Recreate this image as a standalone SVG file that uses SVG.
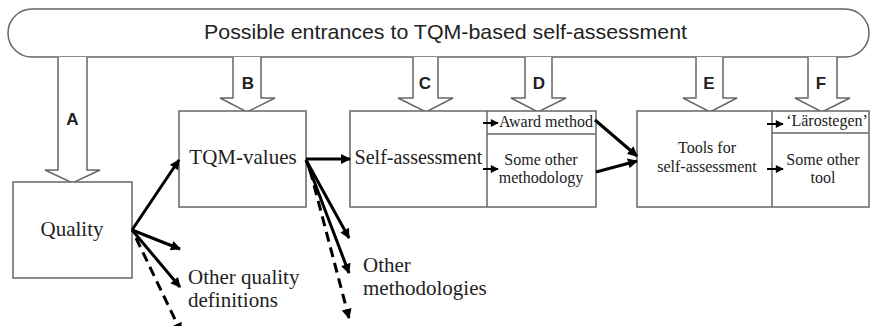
<svg xmlns="http://www.w3.org/2000/svg" width="873" height="326" viewBox="0 0 873 326">
<style>
.box{fill:#fff;stroke:#666;stroke-width:1.5}
.blk{fill:#fff;stroke:#666;stroke-width:1.5;stroke-linejoin:miter}
.ser{font-family:"Liberation Serif",serif;fill:#222}
.sans{font-family:"Liberation Sans",Arial,sans-serif;fill:#222}
.lbl{font-family:"Liberation Sans",Arial,sans-serif;font-weight:bold;font-size:17px;fill:#222;text-anchor:middle}
.c{stroke:#000;stroke-width:3;fill:none}
.d{stroke:#000;stroke-width:3;fill:none;stroke-dasharray:10,6}
.s{stroke:#000;stroke-width:2;fill:none}
</style>
<defs>
<marker id="ah" viewBox="0 0 10 10" refX="9" refY="5" markerWidth="13" markerHeight="10" markerUnits="userSpaceOnUse" orient="auto"><path d="M0,0 L10,5 L0,10 z" fill="#000"/></marker>
<marker id="sh" viewBox="0 0 10 10" refX="9" refY="5" markerWidth="9" markerHeight="8" markerUnits="userSpaceOnUse" orient="auto"><path d="M0,0 L10,5 L0,10 z" fill="#000"/></marker>
</defs>
<rect width="873" height="326" fill="#fff"/>
<g id="top">
<rect class="box" x="8" y="9" width="861" height="48" rx="24" ry="24"/>
<text class="sans" x="204" y="39" font-size="21" textLength="483" lengthAdjust="spacingAndGlyphs">Possible entrances to TQM-based self-assessment</text>
</g>
<g id="entrances">
<path class="blk" d="M58,57 L58,170 L45,170 L72.5,183 L100,170 L87,170 L87,57"/>
<text class="lbl" x="72.5" y="125">A</text>
<path class="blk" d="M233,57 L233,98 L220,98 L247,112 L275,98 L261,98 L261,57"/>
<text class="lbl" x="248" y="89">B</text>
<path class="blk" d="M413,57 L413,98 L398,98 L426,112 L453,98 L438,98 L438,57"/>
<text class="lbl" x="425" y="89">C</text>
<path class="blk" d="M525,57 L525,98 L511,98 L538,112 L566,98 L552,98 L552,57"/>
<text class="lbl" x="539" y="89">D</text>
<path class="blk" d="M696,57 L696,98 L683,98 L710,112 L737,98 L723,98 L723,57"/>
<text class="lbl" x="709" y="89">E</text>
<path class="blk" d="M808,57 L808,98 L795,98 L822,112 L850,98 L837,98 L837,57"/>
<text class="lbl" x="821" y="89">F</text>
</g>
<g id="quality">
<rect class="box" x="13" y="182" width="119" height="96"/>
<text class="ser" x="72" y="236" font-size="21" text-anchor="middle">Quality</text>
</g>
<g id="tqm-values">
<rect class="box" x="179" y="111" width="127" height="96"/>
<text class="ser" x="243" y="164" font-size="21" text-anchor="middle">TQM-values</text>
</g>
<g id="self-assessment">
<rect class="box" x="350" y="111" width="246" height="96"/>
<line class="box" x1="487" y1="111" x2="487" y2="207"/>
<line class="box" x1="487" y1="134" x2="596" y2="134"/>
<text class="ser" x="418.5" y="164" font-size="20" text-anchor="middle">Self-assessment</text>
<text class="ser" x="546" y="127" font-size="16" text-anchor="middle">Award method</text>
<text class="ser" x="541" y="165" font-size="16" text-anchor="middle">Some other</text>
<text class="ser" x="541" y="183" font-size="16" text-anchor="middle">methodology</text>
</g>
<g id="tools">
<rect class="box" x="637" y="111" width="232" height="96"/>
<line class="box" x1="772" y1="111" x2="772" y2="207"/>
<line class="box" x1="772" y1="133" x2="869" y2="133"/>
<text class="ser" x="707" y="153" font-size="16" text-anchor="middle">Tools for</text>
<text class="ser" x="707" y="172" font-size="16" text-anchor="middle">self-assessment</text>
<text class="ser" x="827" y="126" font-size="16" text-anchor="middle">‘Lärostegen’</text>
<text class="ser" x="823" y="165" font-size="16" text-anchor="middle">Some other</text>
<text class="ser" x="823" y="183" font-size="16" text-anchor="middle">tool</text>
</g>
<g id="others">
<text class="ser" x="188" y="284" font-size="21">Other quality</text>
<text class="ser" x="188" y="307" font-size="21">definitions</text>
<text class="ser" x="363" y="272" font-size="21">Other</text>
<text class="ser" x="363" y="295" font-size="21">methodologies</text>
</g>
<g id="connectors">
<line class="c" x1="132" y1="230" x2="179" y2="160" marker-end="url(#ah)"/>
<line class="c" x1="132" y1="230" x2="180" y2="249" marker-end="url(#ah)"/>
<line class="c" x1="132" y1="230" x2="180" y2="287" marker-end="url(#ah)"/>
<line class="d" x1="136" y1="238" x2="181" y2="332" marker-end="url(#ah)"/>
<line class="c" x1="306" y1="159" x2="350" y2="159" marker-end="url(#ah)"/>
<line class="c" x1="306" y1="160" x2="349" y2="238" marker-end="url(#ah)"/>
<line class="c" x1="306" y1="160" x2="349" y2="273" marker-end="url(#ah)"/>
<line class="d" x1="310" y1="170" x2="349" y2="318" marker-end="url(#ah)"/>
<line class="s" x1="483" y1="123" x2="498" y2="123" marker-end="url(#sh)"/>
<line class="s" x1="483" y1="169" x2="498" y2="169" marker-end="url(#sh)"/>
<line class="c" x1="595" y1="120" x2="637" y2="156" marker-end="url(#ah)"/>
<line class="c" x1="596" y1="172" x2="637" y2="161" marker-end="url(#ah)"/>
<line class="s" x1="767" y1="124" x2="783" y2="124" marker-end="url(#sh)"/>
<line class="s" x1="767" y1="169" x2="783" y2="169" marker-end="url(#sh)"/>
</g>
</svg>
